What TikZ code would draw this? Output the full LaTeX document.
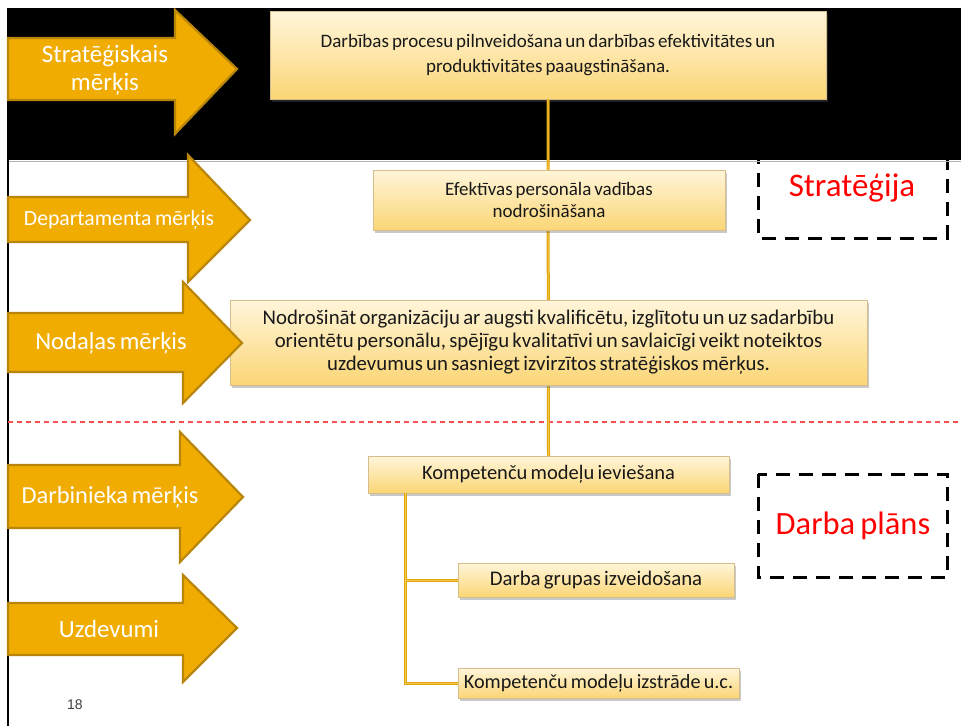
\documentclass[tikz,border=0pt]{standalone}
\usepackage{fontspec}
\setmainfont{Carlito}[WordSpace={0.7,0,0}]
\newfontfamily\numfont{Liberation Sans}
\usetikzlibrary{shadows}
\definecolor{gold}{RGB}{240,172,0}
\definecolor{golddark}{RGB}{184,134,11}
\definecolor{linegold}{RGB}{226,166,10}
\definecolor{linelight}{RGB}{245,200,80}
\definecolor{boxtop}{RGB}{255,245,218}
\definecolor{boxbot}{RGB}{251,214,118}
\definecolor{boxedge}{RGB}{214,190,140}
\definecolor{txt}{RGB}{25,25,25}
\definecolor{reddash}{RGB}{250,80,80}
\tikzset{
  goalbox/.style={draw=boxedge, line width=0.8pt, top color=boxtop, bottom color=boxbot,
    drop shadow={shadow xshift=2pt, shadow yshift=-2.5pt, opacity=0.35, fill=black!60},
    align=center, text=txt, inner sep=2pt},
  goalarrow/.style={fill=gold, draw=golddark, line width=2.2pt, line join=miter},
  arrowtext/.style={text=white, align=center},
  conn/.style={draw=linegold, line width=3pt},
  connin/.style={draw=linelight, line width=0.8pt},
  planbox/.style={draw=black, line width=3pt, dash pattern=on 14pt off 9pt},
  redtext/.style={text=red}
}
\begin{document}
\begin{tikzpicture}[x=1pt,y=-1pt]
\useasboundingbox (0,0) rectangle (961,726);
\fill[white] (0,0) rectangle (961,726);
% dashed frames (top of the first hidden under the band)
\draw[planbox] (758,150) rectangle (947,238);
\draw[planbox] (758,474) rectangle (947,577);
% black band and frame line
\fill[black] (8,8) rectangle (961,160);
\draw[black!30, line width=1.5pt] (8,161.5) -- (961,161.5);
\draw[black, line width=1.6pt] (8,8) -- (8,726);
% red separator
\draw[reddash, line width=1.2pt, dash pattern=on 5pt off 4pt] (8,422) -- (961,422);
% coordinates
\coordinate (tx) at (405,0);
\coordinate (kt) at (548.5,456);
% boxes
\node[goalbox, minimum width=556pt, minimum height=88pt,
  font=\fontsize{19}{25}\selectfont] (top) at (548,55)
  {Darbības procesu pilnveidošana un darbības efektivitātes un\\produktivitātes paaugstināšana.};
\draw[conn] (top.south) -- (kt);
\draw[connin] (top.south) -- (kt);
\node[goalbox, minimum width=352pt, minimum height=60pt,
  font=\fontsize{19}{22}\selectfont] (dep) at (549,200)
  {Efektīvas personāla vadības\\nodrošināšana};
\node[goalbox, minimum width=637pt, minimum height=85pt,
  font=\fontsize{20.8}{23}\selectfont] (nod) at (548.5,342.5)
  {Nodrošināt organizāciju ar augsti kvalificētu, izglītotu un uz sadarbību\\orientētu personālu, spējīgu kvalitatīvi un savlaicīgi veikt noteiktos\\uzdevumus un sasniegt izvirzītos stratēģiskos mērķus.};
\node[goalbox, minimum width=361pt, minimum height=37pt,
  font=\fontsize{20.5}{23}\selectfont] (k1) at (548.5,474.5) {Kompetenču modeļu ieviešana};
% tree connectors
\coordinate (k2w) at (458,580);
\coordinate (k3w) at (458,683);
\draw[conn] (k1.south -| tx) |- (k2w);
\draw[conn] (k1.south -| tx) |- (k3w);
\draw[connin] (k1.south -| tx) |- (k2w);
\draw[connin] (k1.south -| tx) |- (k3w);
\node[goalbox, minimum width=276pt, minimum height=34pt,
  font=\fontsize{20.8}{23}\selectfont] (k2) at (596,580) {Darba grupas izveidošana};
\node[goalbox, minimum width=281pt, minimum height=30pt, inner sep=1pt,
  font=\fontsize{20.2}{23}\selectfont] (k3) at (598.5,683) {Kompetenču modeļu izstrāde u.c.};
% arrows
\draw[goalarrow] (8,38) -- (175,38) -- (175,10) -- (237,69) -- (175,134) -- (175,100) -- (8,100) -- cycle;
\draw[goalarrow] (8,197) -- (188,197) -- (188,155) -- (250,220) -- (188,282) -- (188,242) -- (8,242) -- cycle;
\draw[goalarrow] (8,313) -- (183,313) -- (183,282) -- (242,343) -- (183,403) -- (183,372) -- (8,372) -- cycle;
\draw[goalarrow] (8,465) -- (180,465) -- (180,432) -- (243,497) -- (180,562) -- (180,528) -- (8,528) -- cycle;
\draw[goalarrow] (8,603) -- (183,603) -- (183,575) -- (237,628) -- (183,682) -- (183,655) -- (8,655) -- cycle;
\node[arrowtext, font=\fontsize{25}{28}\selectfont] (a1) at (105,70) {Stratēģiskais\\mērķis};
\node[arrowtext, font=\fontsize{21.7}{25}\selectfont] (a2) at (119,220) {Departamenta mērķis};
\node[arrowtext, font=\fontsize{24.6}{28}\selectfont] (a3) at (111,343) {Nodaļas mērķis};
\node[arrowtext, font=\fontsize{24.4}{28}\selectfont] (a4) at (110,497) {Darbinieka mērķis};
\node[arrowtext, font=\fontsize{24.8}{28}\selectfont] (a5) at (109,629) {Uzdevumi};
% plan labels
\node[redtext, font=\fontsize{33}{36}\selectfont] (s) at (852,188) {Stratēģija};
\node[redtext, font=\fontsize{32.5}{36}\selectfont] (p) at (853,526) {Darba plāns};
% page number
\node[text=black!75, font=\numfont\fontsize{14}{16}\selectfont] (pg) at (75,705) {18};
\end{tikzpicture}
\end{document}
